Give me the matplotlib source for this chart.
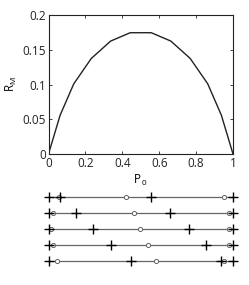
import matplotlib
matplotlib.use('Agg')
import matplotlib.pyplot as plt

plt.rcParams['font.family'] = ['Open Sans', 'DejaVu Sans']
plt.rcParams['mathtext.fontset'] = 'custom'
plt.rcParams['mathtext.rm'] = 'Open Sans'
plt.rcParams['mathtext.it'] = 'Open Sans'

# curve R_M vs P_0
p0 = [0, 0.063, 0.137, 0.232, 0.337, 0.443, 0.557, 0.663, 0.768, 0.863, 0.937, 1]
rm = [0, 0.0558, 0.101, 0.1375, 0.1625, 0.1745, 0.1745, 0.1625, 0.1375, 0.101, 0.0558, 0]

# rows below: plus markers and circle markers
plus_rows = [
    [0, 0.063, 0.557, 1],
    [0, 0.147, 0.66, 1],
    [0, 0.24, 0.76, 1],
    [0, 0.34, 0.853, 1],
    [0, 0.445, 0.935, 1],
]
circle_rows = [
    [0.055, 0.418, 0.951],
    [0.026, 0.463, 0.979],
    [0.012, 0.495, 0.979],
    [0.026, 0.542, 0.979],
    [0.045, 0.582, 0.951],
]

fig = plt.figure(figsize=(2.49, 2.85), dpi=100)
W, H = 249, 285

# main axes
ax = fig.add_axes([48.5 / W, 1 - 154 / H, 184.5 / W, 139 / H])
ax.plot(p0, rm, color='#222222', lw=1.0)
ax.set_xlim(0, 1)
ax.set_ylim(0, 0.2)
ax.set_xticks([0, 0.2, 0.4, 0.6, 0.8, 1])
ax.set_xticklabels(['0', '0.2', '0.4', '0.6', '0.8', '1'])
ax.set_yticks([0, 0.05, 0.1, 0.15, 0.2])
ax.set_yticklabels(['0', '0.05', '0.1', '0.15', '0.2'])
ax.tick_params(direction='in', length=2.5, width=0.6, labelsize=8.5,
               top=True, right=True, pad=2, colors='#222222')
for s in ax.spines.values():
    s.set_linewidth(0.8)
    s.set_color('#222222')
ax.set_xlabel('P$_{\\,0}$', fontsize=8.5, labelpad=2)
ax.set_ylabel('R$_{M}$', fontsize=8.5, labelpad=2)

# lower rows: y from 196.7 (row 0) to 260.7 (row 4), 16 px per row
ax2 = fig.add_axes([48.5 / W, 1 - 276.7 / H, 184.5 / W, 96 / H])
ax2.set_xlim(0, 1)
ax2.set_ylim(-1, 5)
ax2.axis('off')
for i, (pl, cl) in enumerate(zip(plus_rows, circle_rows)):
    y = 4 - i
    ax2.plot([0, 1], [y, y], color='#666666', lw=0.9, zorder=1, clip_on=False)
    ax2.plot(cl, [y] * len(cl), 'o', mfc='white', mec='#666666', ms=3, mew=0.7,
             zorder=2, clip_on=False)
    ax2.plot(pl, [y] * len(pl), '+', color='black', ms=7, mew=1.0, zorder=3,
             clip_on=False)

fig.savefig('out.png', dpi=100)
